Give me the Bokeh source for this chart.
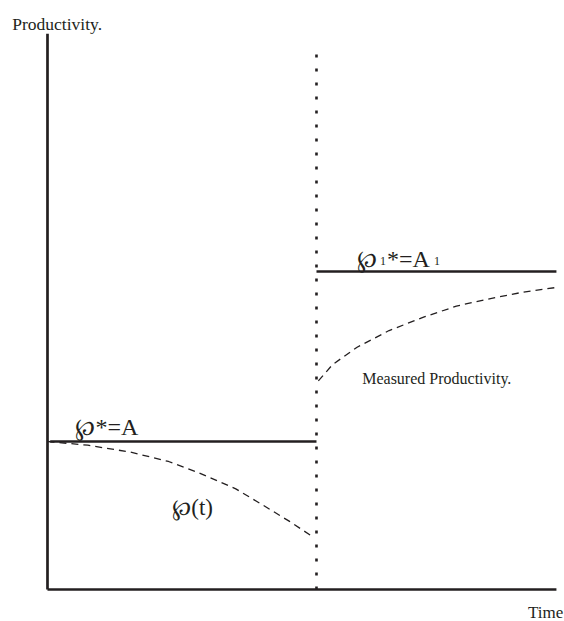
from bokeh.plotting import figure
from bokeh.models import Range1d, Label
from bokeh.embed import file_html
from bokeh.resources import INLINE

# --- data (time in units of the shock time, productivity in units of A) ---
t_max = 1.892          # right end of the time axis
y_top = 3.755          # top of the productivity axis
shock_t = 1.0
dotted_top = 3.64

A = 1.0
A1 = 2.149

t_curve1 = [0.0, 0.15, 0.309, 0.45, 0.558, 0.70, 0.803, 0.90, 0.989]
p_curve1 = [1.0, 0.975, 0.928, 0.865, 0.792, 0.68, 0.568, 0.46, 0.353]

t_curve2 = [1.007, 1.06, 1.151, 1.27, 1.398, 1.52, 1.647, 1.77, 1.892]
p_curve2 = [1.41, 1.52, 1.637, 1.75, 1.840, 1.915, 1.966, 2.01, 2.041]

SERIF = "Liberation Serif"
INK = "#231f20"

p = figure(width=564, height=621, output_backend="svg", toolbar_location=None,
           x_range=Range1d(-0.1747, 1.922), y_range=Range1d(-0.2162, 3.980),
           x_axis_location=None, y_axis_location=None,
           min_border=0, min_border_left=0, min_border_right=0,
           min_border_top=0, min_border_bottom=0)
p.outline_line_color = None
p.xgrid.visible = False
p.ygrid.visible = False

# axes
p.segment(x0=[0, 0], y0=[0, 0], x1=[0, t_max], y1=[y_top, 0],
          line_width=2.7, line_color=INK)

# horizontal equilibrium levels
p.line([0.01, shock_t], [A, A], line_width=2.5, line_color=INK)
p.line([shock_t, t_max], [A1, A1], line_width=2.5, line_color=INK)

# dotted shock line
p.line([shock_t, shock_t], [0, dotted_top], line_width=2.6, line_color=INK,
       line_dash="3 11")

# dashed measured productivity curves
p.line(t_curve1, p_curve1, line_width=1.3, line_color=INK, line_dash="7 5")
p.line(t_curve2, p_curve2, line_width=1.3, line_color=INK, line_dash="7 5")

def lab(x, y, text, size):
    p.add_layout(Label(x=x, y=y, text=text, text_font=SERIF, text_font_size=size,
                       text_color=INK, text_baseline="alphabetic"))

lab(-0.131, 3.822, "Productivity.", "17.5px")
lab(1.786, -0.153, "Time", "17px")
lab(0.104, 1.097, "\u2118*=A", "24px")
lab(1.151, 2.230, "\u2118", "24px")
lab(1.236, 2.218, "1", "12px")
lab(1.262, 2.230, "*=A", "24px")
lab(1.437, 2.218, "1", "12px")
lab(1.170, 1.426, "Measured Productivity.", "16px")
lab(0.464, 0.556, "\u2118(t)", "23px")

open("out.html", "w").write(file_html(p, INLINE))
